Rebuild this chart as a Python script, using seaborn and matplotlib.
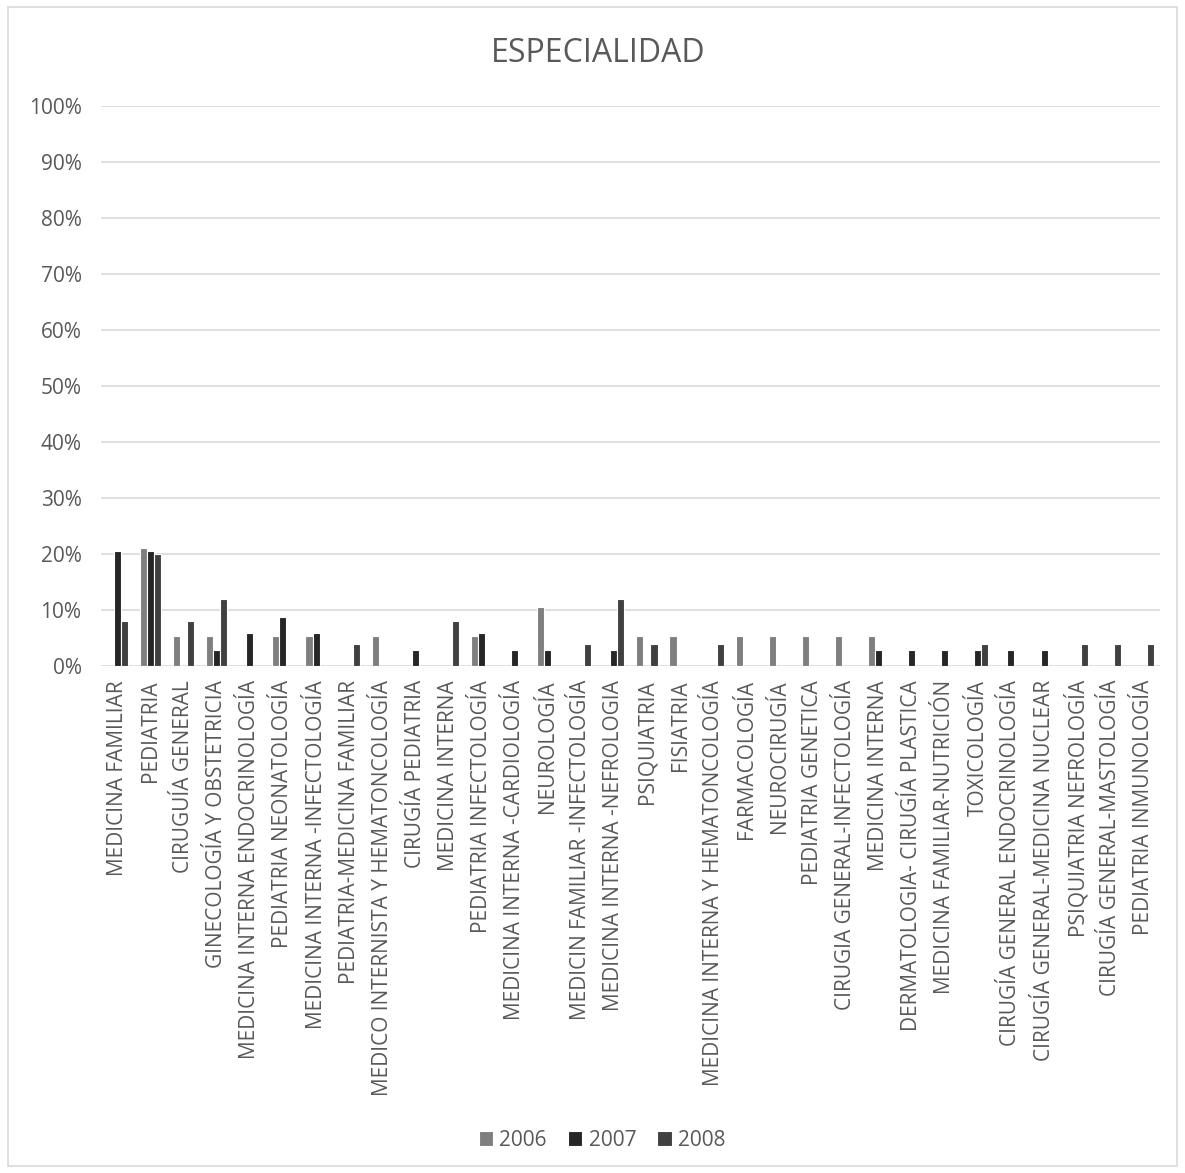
import pandas as pd
import matplotlib.pyplot as plt
import seaborn as sns
from matplotlib.patches import Rectangle
from matplotlib.ticker import PercentFormatter

especialidades = [
    "MEDICINA FAMILIAR", "PEDIATRIA", "CIRUGUÍA GENERAL", "GINECOLOGÍA Y OBSTETRICIA",
    "MEDICINA INTERNA ENDOCRINOLOGÍA", "PEDIATRIA NEONATOLOGÍA", "MEDICINA INTERNA -INFECTOLOGÍA",
    "PEDIATRIA-MEDICINA FAMILIAR", "MEDICO INTERNISTA Y HEMATONCOLOGÍA", "CIRUGÍA PEDIATRIA",
    "MEDICINA INTERNA", "PEDIATRIA INFECTOLOGÍA", "MEDICINA INTERNA -CARDIOLOGÍA", "NEUROLOGÍA",
    "MEDICIN FAMILIAR -INFECTOLOGÍA", "MEDICINA INTERNA -NEFROLOGIA", "PSIQUIATRIA", "FISIATRIA",
    "MEDICINA INTERNA Y HEMATONCOLOGÍA", "FARMACOLOGÍA", "NEUROCIRUGÍA", "PEDIATRIA GENETICA",
    "CIRUGIA GENERAL-INFECTOLOGÍA", "MEDICINA INTERNA", "DERMATOLOGIA- CIRUGÍA PLASTICA",
    "MEDICINA FAMILIAR-NUTRICIÓN", "TOXICOLOGÍA", "CIRUGÍA GENERAL ENDOCRINOLOGÍA",
    "CIRUGÍA GENERAL-MEDICINA NUCLEAR", "PSIQUIATRIA NEFROLOGÍA", "CIRUGÍA GENERAL-MASTOLOGÍA",
    "PEDIATRIA INMUNOLOGÍA",
]

# porcentajes
v2006 = [0, 21.1, 5.3, 5.3, 0, 5.3, 5.3, 0, 5.3, 0, 0, 5.3, 0, 10.5, 0, 0,
         5.3, 5.3, 0, 5.3, 5.3, 5.3, 5.3, 5.3, 0, 0, 0, 0, 0, 0, 0, 0]
v2007 = [20.6, 20.6, 0, 2.9, 5.9, 8.8, 5.9, 0, 0, 2.9, 0, 5.9, 2.9, 2.9, 0, 2.9,
         0, 0, 0, 0, 0, 0, 0, 2.9, 2.9, 2.9, 2.9, 2.9, 2.9, 0, 0, 0]
v2008 = [8, 20, 8, 12, 0, 0, 0, 4, 0, 0, 8, 0, 0, 0, 4, 12,
         4, 0, 4, 0, 0, 0, 0, 0, 0, 0, 4, 0, 0, 4, 4, 4]
years = ["2006", "2007", "2008"]
colores = ["#7f7f7f", "#262626", "#404040"]

rows = []
for y, vals in zip(years, [v2006, v2007, v2008]):
    for i, v in enumerate(vals):
        if v > 0:
            rows.append({"idx": i, "anio": y, "pct": v / 100})
df = pd.DataFrame(rows)

sns.set_style("white")
plt.rcParams["font.family"] = ["Open Sans", "DejaVu Sans"]
txt = "#595959"

fig = plt.figure(figsize=(11.85, 11.73), dpi=100)
ax = fig.add_axes([0.0852, 0.4322, 0.8936, 0.4774])

sns.barplot(data=df, x="idx", y="pct", hue="anio", order=list(range(len(especialidades))),
            hue_order=years, palette=colores, width=0.64, edgecolor="white",
            linewidth=0.8, ax=ax)

ax.set_ylim(0, 1)
ax.set_xlim(-0.5, len(especialidades) - 0.5)
ax.set_yticks([i / 10 for i in range(11)])
ax.yaxis.set_major_formatter(PercentFormatter(1.0, decimals=0))
ax.yaxis.grid(True, color="#d9d9d9", linewidth=1.2)
ax.set_axisbelow(True)
for s in ax.spines.values():
    s.set_visible(False)
ax.set_xticks(range(len(especialidades)))
ax.set_xticklabels(especialidades, rotation=90, fontsize=15, color=txt)
ax.tick_params(axis="y", labelsize=15, labelcolor=txt, length=0, pad=14)
ax.tick_params(axis="x", length=0, pad=10)
ax.set_xlabel("")
ax.set_ylabel("")

fig.text(0.505, 0.954, "ESPECIALIDAD", ha="center", va="center", fontsize=23, color=txt)

h, l = ax.get_legend_handles_labels()
ax.legend_.remove()
fig.legend(h, l, loc="center", bbox_to_anchor=(0.508, 0.028), ncol=3, frameon=False,
           fontsize=15, labelcolor=txt, handlelength=0.7, handleheight=0.7,
           handletextpad=0.3, columnspacing=1.0)

fig.patches.append(Rectangle((0.007, 0.006), 0.986, 0.988, transform=fig.transFigure,
                             fill=False, edgecolor="#d9d9d9", linewidth=1.2))

fig.savefig("out.png", dpi=100)
